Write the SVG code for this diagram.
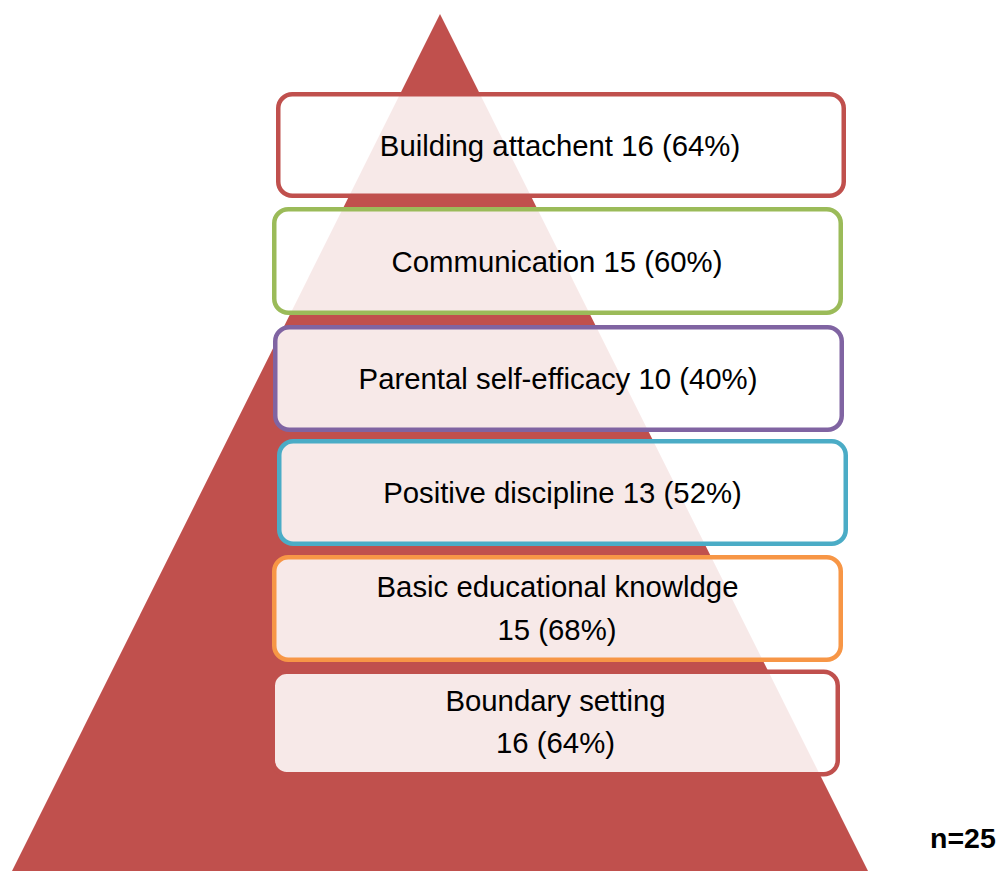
<svg xmlns="http://www.w3.org/2000/svg" width="1001" height="871" viewBox="0 0 1001 871">
<style>
.box{fill:#ffffff;fill-opacity:0.875;stroke-width:4.5}
.t{font-family:"Liberation Sans",Arial,sans-serif;font-size:29.33px;fill:#000;text-anchor:middle}
.n{font-family:"Liberation Sans",Arial,sans-serif;font-size:28.5px;font-weight:bold;fill:#000}
</style>
<rect width="1001" height="871" fill="#ffffff"/>
<g id="pyramid">
<polygon points="440,14 12,871 868,871" fill="#c0504d"/>
</g>
<g id="connectors"></g>
<g id="node1">
<rect class="box" x="278.25" y="94.25" width="565.5" height="101.5" rx="14" stroke="#c0504d"/>
<text class="t" x="560" y="155.5">Building attachent 16 (64%)</text>
</g>
<g id="node2">
<rect class="box" x="274.25" y="209.25" width="566.5" height="103.5" rx="14" stroke="#9bbb59"/>
<text class="t" x="557" y="271.5">Communication 15 (60%)</text>
</g>
<g id="node3">
<rect class="box" x="275.25" y="327.25" width="566.5" height="102.5" rx="14" stroke="#8064a2"/>
<text class="t" x="558" y="389">Parental self-efficacy 10 (40%)</text>
</g>
<g id="node4">
<rect class="box" x="279.25" y="441.25" width="566.5" height="102.5" rx="14" stroke="#4bacc6"/>
<text class="t" x="562.5" y="503">Positive discipline 13 (52%)</text>
</g>
<g id="node5">
<rect class="box" x="274.25" y="557.25" width="566.5" height="102.5" rx="14" stroke="#f79646"/>
<text class="t" x="557.5" y="597">Basic educational knowldge</text>
<text class="t" x="557" y="639.5">15 (68%)</text>
</g>
<g id="node6">
<rect class="box" x="272.75" y="671.75" width="565" height="102.5" rx="14" stroke="#c0504d"/>
<text class="t" x="555.5" y="711">Boundary setting</text>
<text class="t" x="555.5" y="753">16 (64%)</text>
</g>
<g id="note">
<text class="n" x="930" y="848">n=25</text>
</g>
</svg>
